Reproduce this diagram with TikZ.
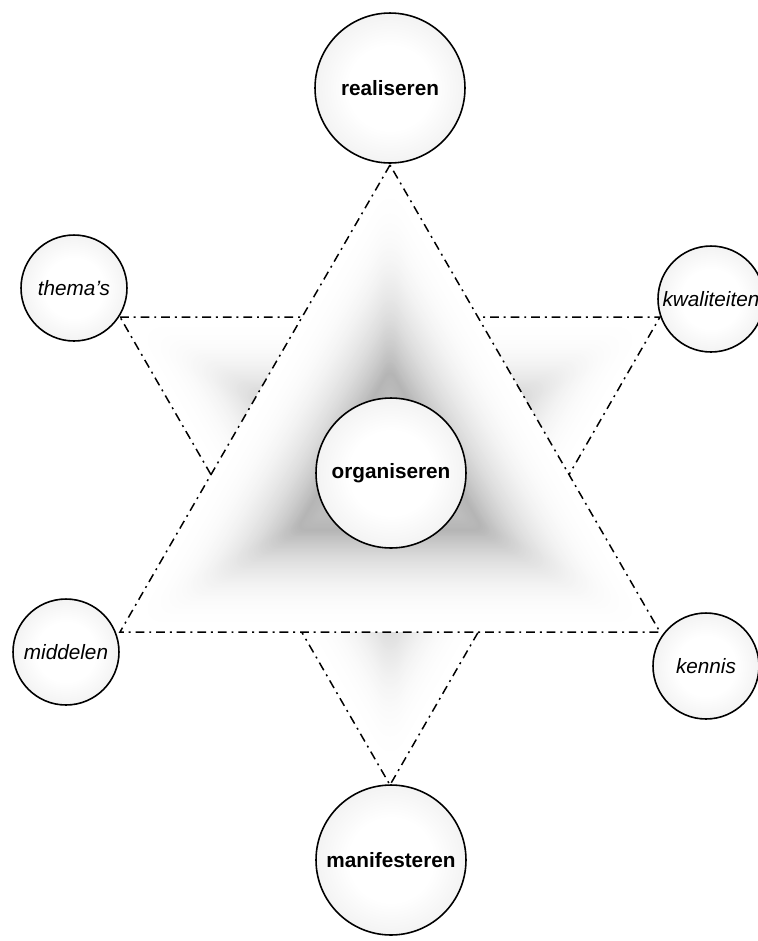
\documentclass[tikz,border=0pt]{standalone}
\usepackage{fontspec}
\setmainfont{Liberation Sans}
\usetikzlibrary{calc}
\pgfdeclareradialshading{bubble}{\pgfpoint{0bp}{0bp}}{color(0bp)=(white); color(14bp)=(white); color(35bp)=(black!9); color(50bp)=(black!9)}
\tikzset{
  bubble/.style={circle,draw,line width=0.9pt,shading=bubble,inner sep=0pt},
  bigbubble/.style={bubble,minimum size=3cm,font=\fontsize{11.8}{14}\selectfont\bfseries},
  smallbubble/.style={bubble,minimum size=2.12cm,font=\fontsize{11.8}{14}\selectfont\itshape},
  starline/.style={line width=0.85pt,dash pattern=on 5pt off 2.8pt on 1.1pt off 2.8pt}
}
\begin{document}
\begin{tikzpicture}[x=0.02cm,y=-0.02cm]
    \useasboundingbox (0,0) rectangle (758,941);
    \clip (0,0) rectangle (758,941);

    \coordinate (ua) at (390,165);
    \coordinate (ub) at (120,632);
    \coordinate (uc) at (660,632);
    \coordinate (cu) at (390,476.3);
    \coordinate (da) at (120,317);
    \coordinate (db) at (660,317);
    \coordinate (dc) at (390,785);
    \coordinate (cd) at (390,473);

    % triangle pointing down
    \foreach \i in {1,...,119}{
        \pgfmathsetmacro\s{1-\i/120}
        \pgfmathsetmacro\g{\s>0.35 ? 29*((1-\s)/0.65)^2.3 : 29-14*(0.35-\s)/0.35}
        \pgfmathsetmacro\r{\s*16}
        \fill[black!\g,rounded corners=\r pt] ($(cd)!\s!(da)$) -- ($(cd)!\s!(db)$) -- ($(cd)!\s!(dc)$) -- cycle;
    }
    \draw[starline] (da) -- (db) -- (dc) -- cycle;

    % triangle pointing up
    \fill[white] (ua) -- (ub) -- (uc) -- cycle;
    \foreach \i in {1,...,119}{
        \pgfmathsetmacro\s{1-\i/120}
        \pgfmathsetmacro\g{\s>0.35 ? 29*((1-\s)/0.65)^2.3 : 29-14*(0.35-\s)/0.35}
        \pgfmathsetmacro\r{\s*16}
        \fill[black!\g,rounded corners=\r pt] ($(cu)!\s!(ua)$) -- ($(cu)!\s!(ub)$) -- ($(cu)!\s!(uc)$) -- cycle;
    }
    \draw[starline] (ua) -- (ub) -- (uc) -- cycle;

    \node[bigbubble] (realiseren) at (390,88) {realiseren};
    \node[bigbubble] (organiseren) at (391,473) {organiseren};
    \node[bigbubble] (manifesteren) at (391,860) {manifesteren};

    \node[smallbubble] (themas) at (74,288) {thema's};
    \node[smallbubble] (kwaliteiten) at (711,299) {kwaliteiten};
    \node[smallbubble] (middelen) at (66,652) {middelen};
    \node[smallbubble] (kennis) at (706,666) {kennis};
\end{tikzpicture}
\end{document}
